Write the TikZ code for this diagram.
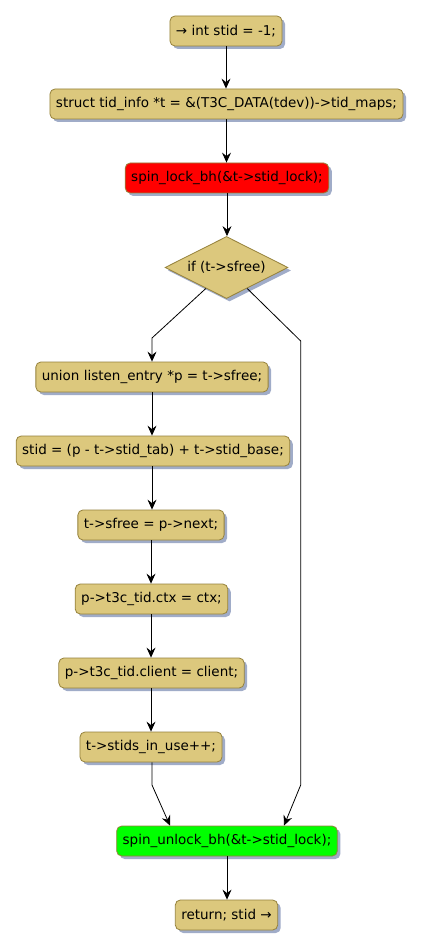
\documentclass[tikz,border=0pt]{standalone}
\usepackage{fontspec}
\setmainfont{DejaVu Sans}
\usetikzlibrary{shapes.geometric,shadows,arrows.meta,calc}
\definecolor{boxfill}{RGB}{220,200,125}
\definecolor{boxdraw}{RGB}{150,130,60}
\definecolor{shade}{RGB}{160,172,200}
\definecolor{redfill}{RGB}{255,0,0}
\definecolor{greenfill}{RGB}{0,255,0}
\begin{document}
\begin{tikzpicture}[x=1pt,y=-1pt,
  act/.style={draw=boxdraw, fill=boxfill, rounded corners=5pt, line width=0.8pt,
    minimum height=30pt, inner xsep=6pt, inner ysep=0pt,
    font=\fontsize{13.5}{15}\selectfont,
    general shadow={fill=shade, shadow xshift=3pt, shadow yshift=-3pt}},
  dia/.style={diamond, aspect=2, draw=boxdraw, fill=boxfill, line width=0.8pt,
    minimum width=123pt, minimum height=62pt, inner sep=0pt,
    font=\fontsize{13.5}{15}\selectfont,
    general shadow={fill=shade, shadow xshift=3pt, shadow yshift=-3pt}},
  arr/.style={line width=0.8pt, -{Stealth[length=10pt,width=9pt,inset=3.5pt]}},
  ln/.style={line width=0.8pt}]
\fill[white] (0,0) rectangle (423,949);
\useasboundingbox (0,0) rectangle (423,949);

\node[act] (n1) at (226,31) {→ int stid = -1;};
\node[act] (n2) at (226.5,104) {struct tid\_info *t = \&(T3C\_DATA(tdev))->tid\_maps;};
\node[act, fill=redfill] (n3) at (227,178) {spin\_lock\_bh(\&t->stid\_lock);};
\node[dia] (d) at (226.5,267.5) {if (t->sfree)};
\node[act] (n5) at (152,377) {union listen\_entry *p = t->sfree;};
\node[act] (n6) at (153,451) {stid = (p - t->stid\_tab) + t->stid\_base;};
\node[act] (n7) at (151,525) {t->sfree = p->next;};
\node[act] (n8) at (151.5,599) {p->t3c\_tid.ctx = ctx;};
\node[act] (n9) at (151.5,673) {p->t3c\_tid.client = client;};
\node[act] (n10) at (151,747) {t->stids\_in\_use++;};
\node[act, fill=greenfill] (n11) at (227,841) {spin\_unlock\_bh(\&t->stid\_lock);};
\node[act] (n12) at (226.5,915) {return; stid →};

\draw[arr] (n1.south) -- (n1.south |- n2.north);
\draw[arr] (n2.south) -- (n2.south |- n3.north);
\draw[arr] (n3.south) -- (n3.south |- d.north);

\coordinate (dl) at ($(d.west)!0.667!(d.south)$);
\coordinate (dr) at ($(d.east)!0.667!(d.south)$);
\coordinate (lb) at (152,338);
\draw[arr] (dl) -- (lb) -- (lb |- n5.north);

\draw[arr] (n5.south) -- (n5.south |- n6.north);
\draw[arr] (n6.south -| n5.south) -- (n5.south |- n7.north);
\draw[arr] (n7.south) -- (n7.south |- n8.north);
\draw[arr] (n8.south -| n7.south) -- (n7.south |- n9.north);
\draw[arr] (n9.south -| n7.south) -- (n7.south |- n10.north);

\coordinate (lj) at (152,785);
\coordinate (le) at ($(n11.north)+(-57,0)$);
\draw[arr] (n10.south -| lj) -- (lj) -- (le);

\coordinate (rb1) at (300.7,341);
\coordinate (rb2) at (300.7,785);
\coordinate (re) at ($(n11.north)+(57,0)$);
\draw[arr] (dr) -- (rb1) -- (rb2) -- (re);

\draw[arr] (n11.south) -- (n11.south |- n12.north);
\end{tikzpicture}
\end{document}
